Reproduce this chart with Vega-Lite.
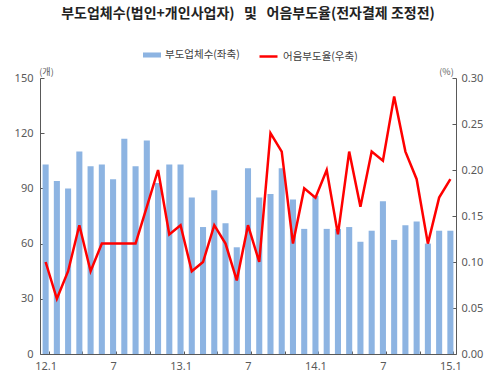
{
  "$schema": "https://vega.github.io/schema/vega-lite/v6.json",
  "autosize": {"type": "none"},
  "width": 416,
  "height": 276,
  "padding": {"left": 40, "top": 78, "right": 44, "bottom": 29},
  "background": "white",
  "title": {
    "text": "부도업체수(법인+개인사업자)\u00a0\u00a0\u00a0및\u00a0\u00a0\u00a0어음부도율(전자결제 조정전)",
    "font": "Noto Sans CJK KR",
    "fontSize": 14,
    "fontWeight": "bold",
    "color": "#222222",
    "anchor": "middle",
    "offset": 25
  },
  "config": {
    "view": {"stroke": null},
    "axis": {
      "grid": false,
      "domainColor": "#595959",
      "tickColor": "#595959",
      "labelColor": "#595959",
      "labelFont": "Noto Sans",
      "labelFontSize": 11,
      "titleFont": "Noto Sans CJK KR",
      "titleFontSize": 9,
      "titleFontWeight": "normal",
      "titleColor": "#595959"
    },
    "legend": {
      "labelFont": "Noto Sans CJK KR",
      "labelFontSize": 10.5,
      "labelColor": "#404040"
    }
  },
  "data": {
    "values": [
      {"m": "2012-01", "firms": 103, "rate": 0.10},
      {"m": "2012-02", "firms": 94, "rate": 0.06},
      {"m": "2012-03", "firms": 90, "rate": 0.09},
      {"m": "2012-04", "firms": 110, "rate": 0.14},
      {"m": "2012-05", "firms": 102, "rate": 0.09},
      {"m": "2012-06", "firms": 103, "rate": 0.12},
      {"m": "2012-07", "firms": 95, "rate": 0.12},
      {"m": "2012-08", "firms": 117, "rate": 0.12},
      {"m": "2012-09", "firms": 102, "rate": 0.12},
      {"m": "2012-10", "firms": 116, "rate": 0.16},
      {"m": "2012-11", "firms": 93, "rate": 0.20},
      {"m": "2012-12", "firms": 103, "rate": 0.13},
      {"m": "2013-01", "firms": 103, "rate": 0.14},
      {"m": "2013-02", "firms": 85, "rate": 0.09},
      {"m": "2013-03", "firms": 69, "rate": 0.10},
      {"m": "2013-04", "firms": 89, "rate": 0.14},
      {"m": "2013-05", "firms": 71, "rate": 0.12},
      {"m": "2013-06", "firms": 58, "rate": 0.08},
      {"m": "2013-07", "firms": 101, "rate": 0.14},
      {"m": "2013-08", "firms": 85, "rate": 0.10},
      {"m": "2013-09", "firms": 87, "rate": 0.24},
      {"m": "2013-10", "firms": 101, "rate": 0.22},
      {"m": "2013-11", "firms": 84, "rate": 0.12},
      {"m": "2013-12", "firms": 68, "rate": 0.18},
      {"m": "2014-01", "firms": 86, "rate": 0.17},
      {"m": "2014-02", "firms": 68, "rate": 0.20},
      {"m": "2014-03", "firms": 68, "rate": 0.13},
      {"m": "2014-04", "firms": 69, "rate": 0.22},
      {"m": "2014-05", "firms": 61, "rate": 0.16},
      {"m": "2014-06", "firms": 67, "rate": 0.22},
      {"m": "2014-07", "firms": 83, "rate": 0.21},
      {"m": "2014-08", "firms": 62, "rate": 0.28},
      {"m": "2014-09", "firms": 70, "rate": 0.22},
      {"m": "2014-10", "firms": 72, "rate": 0.19},
      {"m": "2014-11", "firms": 60, "rate": 0.12},
      {"m": "2014-12", "firms": 67, "rate": 0.17},
      {"m": "2015-01", "firms": 67, "rate": 0.19}
    ]
  },
  "encoding": {
    "x": {
      "field": "m",
      "type": "ordinal",
      "scale": {"paddingInner": 0.46, "paddingOuter": 0.23},
      "axis": {
        "title": null,
        "labelAngle": 0,
        "tickBand": "extent",
        "tickSize": -3,
        "labelPadding": 9,
        "labelExpr": "substring(datum.value,5,7) == '01' ? substring(datum.value,2,4) + '.1' : (substring(datum.value,5,7) == '07' ? '7' : '')",
        "tickOpacity": {"condition": {"test": "indexof(['01','04','07','10'], substring(datum.value,5,7)) >= 0", "value": 1}, "value": 0}
      }
    }
  },
  "layer": [
    {
      "mark": {"type": "bar"},
      "encoding": {
        "y": {
          "field": "firms",
          "type": "quantitative",
          "scale": {"domain": [0, 150], "nice": false},
          "axis": {
            "values": [0, 30, 60, 90, 120, 150],
            "tickSize": -4,
            "labelPadding": 11,
            "title": "(개)",
            "titleAngle": 0,
            "titleAlign": "center",
            "titleBaseline": "middle",
            "titleX": 6,
            "titleY": -7
          }
        },
        "color": {
          "datum": "부도업체수(좌축)",
          "scale": {"range": ["#8DB4E2"]},
          "legend": {
            "title": null,
            "orient": "none",
            "legendX": 103,
            "legendY": -32,
            "symbolType": "M-1,-0.28H1V0.28H-1Z",
            "symbolSize": 324,
            "symbolStrokeWidth": 0,
            "symbolOpacity": 1
          }
        }
      }
    },
    {
      "mark": {"type": "line", "color": "#FF0000", "strokeWidth": 2.5},
      "encoding": {
        "y": {
          "field": "rate",
          "type": "quantitative",
          "scale": {"domain": [0, 0.3], "nice": false},
          "axis": {
            "orient": "right",
            "values": [0, 0.05, 0.1, 0.15, 0.2, 0.25, 0.3],
            "format": ".2f",
            "tickSize": -4,
            "labelPadding": 9,
            "title": "(%)",
            "titleAngle": 0,
            "titleAlign": "center",
            "titleBaseline": "middle",
            "titleX": -10,
            "titleY": -7
          }
        },
        "stroke": {
          "datum": "어음부도율(우축)",
          "scale": {"range": ["#FF0000"]},
          "legend": {
            "title": null,
            "orient": "none",
            "legendX": 218,
            "legendY": -32,
            "symbolType": "stroke",
            "symbolSize": 324,
            "symbolStrokeWidth": 2.5
          }
        }
      }
    }
  ],
  "resolve": {"scale": {"y": "independent"}}
}
